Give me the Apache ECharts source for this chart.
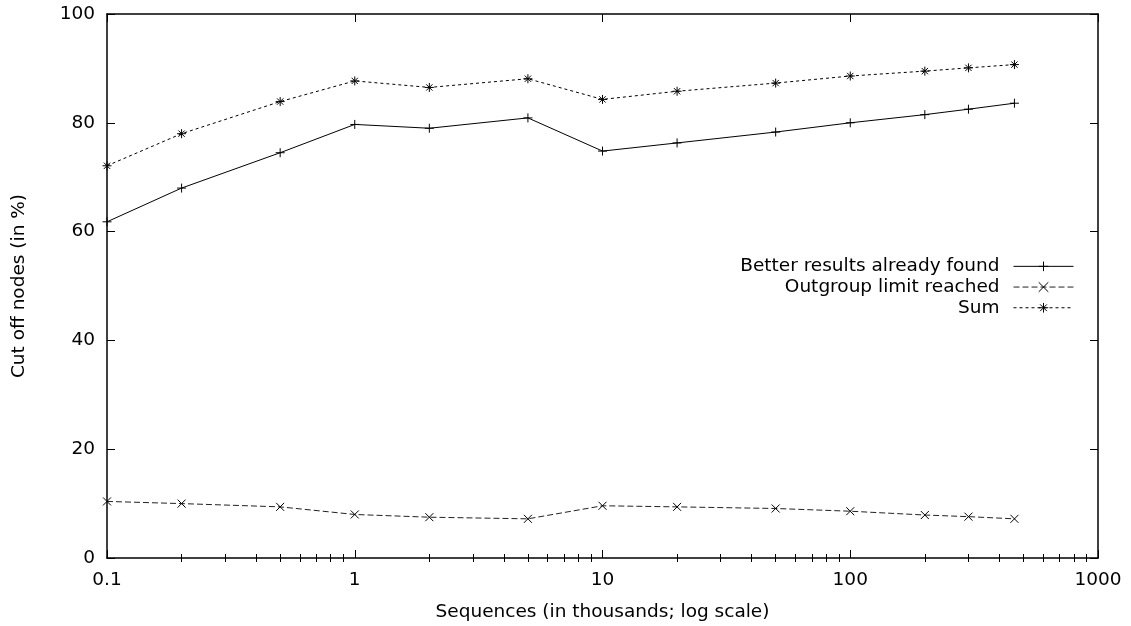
<!DOCTYPE html>
<html>
<head>
<meta charset="utf-8">
<script src="https://cdn.jsdelivr.net/npm/echarts@6/dist/echarts.min.js"></script>
<style>
  html, body { margin: 0; padding: 0; background: #fff; }
  #chart { width: 1131px; height: 626px; }
</style>
</head>
<body>
<div id="chart"></div>
<script>
// ---- data ----
const sequences = [0.1, 0.2, 0.5, 1, 2, 5, 10, 20, 50, 100, 200, 300, 460];
const betterResults = [61.8, 68.0, 74.5, 79.7, 79.0, 80.9, 74.8, 76.3, 78.3, 80.0, 81.5, 82.5, 83.6];
const outgroupLimit = [10.4, 10.0, 9.4, 8.0, 7.5, 7.2, 9.6, 9.4, 9.1, 8.6, 7.9, 7.6, 7.2];
const sumValues = [72.1, 78.0, 83.9, 87.7, 86.5, 88.1, 84.3, 85.8, 87.3, 88.6, 89.5, 90.1, 90.7];
const seriesNames = ['Better results already found', 'Outgroup limit reached', 'Sum'];
const xMajorTicks = [0.1, 1, 10, 100, 1000];
const xMinorTicks = [0.2, 0.3, 0.4, 0.5, 0.6, 0.7, 0.8, 0.9,
                     2, 3, 4, 5, 6, 7, 8, 9,
                     20, 30, 40, 50, 60, 70, 80, 90,
                     200, 300, 400, 500, 600, 700, 800, 900];
const yTicks = [0, 20, 40, 60, 80, 100];
const xTitle = 'Sequences (in thousands; log scale)';
const yTitle = 'Cut off nodes (in %)';

// ---- chart ----
const FONT = 'DejaVu Sans';
const FS = 18.5;
const BLACK = '#000';
const chart = echarts.init(document.getElementById('chart'), null, { renderer: 'canvas' });

const toPairs = (ys) => sequences.map((x, i) => [x, ys[i]]);

const PLUS = 'path://M0,5L10,5M5,0L5,10';
const CROSS = 'path://M0,0L10,10M0,10L10,0';
const STAR = 'path://M0,5L10,5M5,0L5,10M1.5,1.5L8.5,8.5M1.5,8.5L8.5,1.5';

function logAxis(pos, opts) {
  return Object.assign({
    type: 'log',
    logBase: 10,
    min: 0.1,
    max: 1000,
    position: pos,
    gridIndex: 0,
    axisLine: { show: true, onZero: false, lineStyle: { color: BLACK, width: 1.5 } },
    axisTick: { show: true, inside: true, length: 8, lineStyle: { color: BLACK, width: 1 }, customValues: xMajorTicks },
    axisLabel: { show: false },
    splitLine: { show: false },
    minorTick: { show: false },
    minorSplitLine: { show: false }
  }, opts);
}

function valueAxis(pos, opts) {
  return Object.assign({
    type: 'value',
    min: 0,
    max: 100,
    interval: 20,
    position: pos,
    axisLine: { show: true, onZero: false, lineStyle: { color: BLACK, width: 1.5 } },
    axisTick: { show: true, inside: true, length: 8, lineStyle: { color: BLACK, width: 1 } },
    axisLabel: { show: false },
    splitLine: { show: false }
  }, opts);
}

const option = {
  animation: false,
  backgroundColor: '#fff',
  textStyle: { fontFamily: FONT },
  grid: { left: 107, right: 33, top: 14, bottom: 68, containLabel: false, outerBoundsMode: 'none' },
  legend: {
    orient: 'vertical',
    align: 'right',
    right: 52,
    top: 251,
    itemWidth: 60,
    itemHeight: 12,
    itemGap: 0,
    data: seriesNames,
    lineStyle: { width: 1 },
    itemStyle: { borderWidth: 1 },
    textStyle: { fontFamily: FONT, fontSize: FS, color: BLACK, lineHeight: 20.7, padding: [0, 9, 0, 0] },
    selectedMode: false
  },
  xAxis: [
    logAxis('bottom', {
      name: xTitle,
      nameLocation: 'middle',
      nameGap: 45,
      nameTextStyle: { fontFamily: FONT, fontSize: FS, color: BLACK },
      axisLabel: {
        show: true, margin: 13, color: BLACK, fontFamily: FONT, fontSize: FS,
        customValues: xMajorTicks,
        formatter: (v) => String(+(+v).toPrecision(6))
      }
    }),
    logAxis('bottom', {
      axisLine: { show: false },
      axisTick: { show: true, inside: true, length: 4, lineStyle: { color: BLACK, width: 1 }, customValues: xMinorTicks }
    }),
    logAxis('top', {}),
    logAxis('top', {
      axisLine: { show: false },
      axisTick: { show: true, inside: true, length: 4, lineStyle: { color: BLACK, width: 1 }, customValues: xMinorTicks }
    })
  ],
  yAxis: [
    valueAxis('left', {
      name: yTitle,
      nameLocation: 'middle',
      nameGap: 78,
      nameTextStyle: { fontFamily: FONT, fontSize: FS, color: BLACK },
      axisLabel: { show: true, margin: 12, color: BLACK, fontFamily: FONT, fontSize: FS, customValues: yTicks }
    }),
    valueAxis('right', {})
  ],
  series: [
    {
      name: seriesNames[0],
      type: 'line',
      xAxisIndex: 0, yAxisIndex: 0,
      data: toPairs(betterResults),
      symbol: PLUS,
      symbolSize: 9,
      showSymbol: true,
      color: BLACK,
      lineStyle: { color: BLACK, width: 1, type: 'solid' },
      itemStyle: { color: BLACK, borderColor: BLACK, borderWidth: 1 },
      emphasis: { disabled: true }
    },
    {
      name: seriesNames[1],
      type: 'line',
      xAxisIndex: 0, yAxisIndex: 0,
      data: toPairs(outgroupLimit),
      symbol: CROSS,
      symbolSize: 8,
      showSymbol: true,
      color: BLACK,
      lineStyle: { color: '#222', width: 1, type: [6, 3] },
      itemStyle: { color: BLACK, borderColor: BLACK, borderWidth: 1 },
      emphasis: { disabled: true }
    },
    {
      name: seriesNames[2],
      type: 'line',
      xAxisIndex: 0, yAxisIndex: 0,
      data: toPairs(sumValues),
      symbol: STAR,
      symbolSize: 9,
      showSymbol: true,
      color: BLACK,
      lineStyle: { color: BLACK, width: 1, type: [3, 3] },
      itemStyle: { color: BLACK, borderColor: BLACK, borderWidth: 1 },
      emphasis: { disabled: true }
    }
  ]
};

chart.setOption(option);
</script>
</body>
</html>
